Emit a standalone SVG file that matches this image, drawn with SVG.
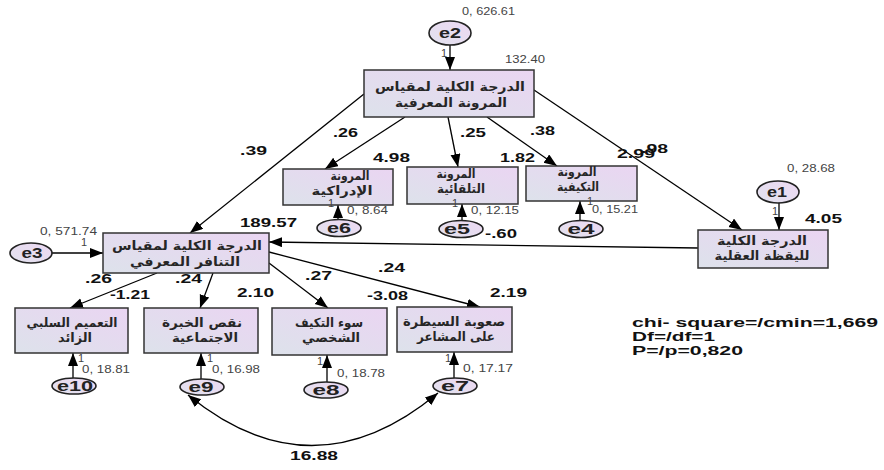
<svg xmlns="http://www.w3.org/2000/svg" width="884" height="470" viewBox="0 0 884 470">
<defs>
<linearGradient id="bx" x1="0" y1="1" x2="1" y2="0">
<stop offset="0" stop-color="#dde2eb"/>
<stop offset="1" stop-color="#ead5f2"/>
</linearGradient>
<linearGradient id="el" x1="0" y1="1" x2="1" y2="0">
<stop offset="0" stop-color="#e2e2ee"/>
<stop offset="1" stop-color="#ecd8f2"/>
</linearGradient>
<marker id="ah" markerUnits="userSpaceOnUse" markerWidth="15" markerHeight="12" refX="13" refY="5" orient="auto-start-reverse">
<path d="M0,0 L13,5 L0,10 z" fill="#000"/>
</marker>
</defs>
<style>
.box{fill:url(#bx);stroke:#333;stroke-width:1.5}
.ell{fill:url(#el);stroke:#222;stroke-width:1.6}
.ln{stroke:#000;stroke-width:1.3;fill:none;marker-end:url(#ah)}
.num{font-family:"Liberation Sans",Arial,sans-serif;font-weight:bold;font-size:13px;fill:#111}
.chi{font-family:"Liberation Sans",Arial,sans-serif;font-weight:bold;font-size:12px;fill:#111}
.sm{font-family:"Liberation Sans",Arial,sans-serif;font-size:11px;fill:#444}
.ar{font-family:"DejaVu Sans",sans-serif;font-weight:bold;font-size:12.5px;fill:#262626;text-anchor:middle}
.ev{font-family:"Liberation Sans",Arial,sans-serif;font-weight:bold;font-size:14px;fill:#222;text-anchor:middle}
</style>
<rect width="884" height="470" fill="#fff"/>

<g id="connectors">
<line class="ln" x1="450" y1="45" x2="450" y2="70"/>
<line class="ln" x1="364" y1="94" x2="190" y2="233"/>
<line class="ln" x1="405" y1="117" x2="325" y2="169"/>
<line class="ln" x1="448" y1="117" x2="458" y2="167"/>
<line class="ln" x1="487" y1="117" x2="557" y2="166"/>
<line class="ln" x1="534" y1="90" x2="742" y2="230"/>
<line class="ln" x1="779" y1="203" x2="779" y2="230"/>
<line class="ln" x1="698" y1="248" x2="269" y2="242"/>
<line class="ln" x1="52" y1="253" x2="103" y2="253"/>
<line class="ln" x1="157" y1="273" x2="70" y2="308"/>
<line class="ln" x1="213" y1="273" x2="200" y2="308"/>
<line class="ln" x1="269" y1="263" x2="328" y2="308"/>
<line class="ln" x1="269" y1="252" x2="480" y2="307"/>
<line class="ln" x1="338" y1="220" x2="338" y2="205"/>
<line class="ln" x1="462" y1="221" x2="462" y2="204"/>
<line class="ln" x1="580" y1="221" x2="580" y2="201"/>
<line class="ln" x1="73" y1="378" x2="73" y2="353"/>
<line class="ln" x1="201" y1="379" x2="201" y2="353"/>
<line class="ln" x1="327" y1="382" x2="327" y2="355"/>
<line class="ln" x1="454" y1="378" x2="454" y2="352"/>
<path class="ln" d="M188,395 Q313,497 438,393" style="marker-start:url(#ah)"/>
</g>

<g id="top">
<rect class="box" x="364" y="70" width="170" height="47"/>
<text class="ar" x="450" y="91" textLength="150" lengthAdjust="spacingAndGlyphs">الدرجة الكلية لمقياس</text>
<text class="ar" x="451" y="107" textLength="112" lengthAdjust="spacingAndGlyphs">المرونة المعرفية</text>
</g>
<g id="b1">
<rect class="box" x="283" y="169" width="110" height="36"/>
<text class="ar" x="350" y="180" textLength="39" lengthAdjust="spacingAndGlyphs">المرونة</text>
<text class="ar" x="342" y="195" textLength="61" lengthAdjust="spacingAndGlyphs">الإدراكية</text>
</g>
<g id="b2">
<rect class="box" x="407" y="167" width="111" height="37"/>
<text class="ar" x="456" y="178" textLength="39" lengthAdjust="spacingAndGlyphs">المرونة</text>
<text class="ar" x="461" y="193" textLength="48" lengthAdjust="spacingAndGlyphs">التلقائية</text>
</g>
<g id="b3">
<rect class="box" x="526" y="166" width="111" height="35"/>
<text class="ar" x="577" y="176" textLength="39" lengthAdjust="spacingAndGlyphs">المرونة</text>
<text class="ar" x="578" y="191" textLength="42" lengthAdjust="spacingAndGlyphs">التكيفية</text>
</g>
<g id="left">
<rect class="box" x="103" y="233" width="166" height="40"/>
<text class="ar" x="187" y="250" textLength="150" lengthAdjust="spacingAndGlyphs">الدرجة الكلية لمقياس</text>
<text class="ar" x="185" y="266" textLength="110" lengthAdjust="spacingAndGlyphs">التنافر المعرفي</text>
</g>
<g id="right">
<rect class="box" x="698" y="230" width="130" height="38"/>
<text class="ar" x="762" y="245" textLength="90" lengthAdjust="spacingAndGlyphs">الدرجة الكلية</text>
<text class="ar" x="762" y="260" textLength="95" lengthAdjust="spacingAndGlyphs">لليقظة العقلية</text>
</g>
<g id="bb1">
<rect class="box" x="15" y="308" width="113" height="45"/>
<text class="ar" x="72" y="327" textLength="91" lengthAdjust="spacingAndGlyphs">التعميم السلبي</text>
<text class="ar" x="75" y="342" textLength="34" lengthAdjust="spacingAndGlyphs">الزائد</text>
</g>
<g id="bb2">
<rect class="box" x="144" y="308" width="114" height="45"/>
<text class="ar" x="202" y="327" textLength="80" lengthAdjust="spacingAndGlyphs">نقص الخبرة</text>
<text class="ar" x="205" y="342" textLength="66" lengthAdjust="spacingAndGlyphs">الاجتماعية</text>
</g>
<g id="bb3">
<rect class="box" x="272" y="308" width="115" height="47"/>
<text class="ar" x="329" y="327" textLength="68" lengthAdjust="spacingAndGlyphs">سوء التكيف</text>
<text class="ar" x="331" y="342" textLength="58" lengthAdjust="spacingAndGlyphs">الشخصي</text>
</g>
<g id="bb4">
<rect class="box" x="397" y="307" width="115" height="45"/>
<text class="ar" x="454" y="326" textLength="102" lengthAdjust="spacingAndGlyphs">صعوبة السيطرة</text>
<text class="ar" x="456" y="341" textLength="78" lengthAdjust="spacingAndGlyphs">على المشاعر</text>
</g>

<g id="e2"><ellipse class="ell" cx="450" cy="33" rx="21" ry="12"/><text class="ev" x="450" y="38" textLength="22" lengthAdjust="spacingAndGlyphs">e2</text></g>
<g id="e1"><ellipse class="ell" cx="778" cy="192" rx="21" ry="11"/><text class="ev" x="777" y="197" textLength="20" lengthAdjust="spacingAndGlyphs">e1</text></g>
<g id="e3"><ellipse class="ell" cx="31" cy="253" rx="21" ry="10"/><text class="ev" x="32" y="258" textLength="21" lengthAdjust="spacingAndGlyphs">e3</text></g>
<g id="e6"><ellipse class="ell" cx="339" cy="228" rx="22" ry="8.5"/><text class="ev" x="339" y="233" textLength="24" lengthAdjust="spacingAndGlyphs">e6</text></g>
<g id="e5"><ellipse class="ell" cx="461" cy="229" rx="22" ry="8.5"/><text class="ev" x="457" y="234" textLength="26" lengthAdjust="spacingAndGlyphs">e5</text></g>
<g id="e4"><ellipse class="ell" cx="581" cy="229" rx="22" ry="8.5"/><text class="ev" x="581" y="234" textLength="27" lengthAdjust="spacingAndGlyphs">e4</text></g>
<g id="e10"><ellipse class="ell" cx="74" cy="386" rx="22" ry="8"/><text class="ev" x="75" y="391" textLength="36" lengthAdjust="spacingAndGlyphs">e10</text></g>
<g id="e9"><ellipse class="ell" cx="202" cy="387" rx="22" ry="8"/><text class="ev" x="201" y="392" textLength="25" lengthAdjust="spacingAndGlyphs">e9</text></g>
<g id="e8"><ellipse class="ell" cx="326" cy="390" rx="22" ry="8"/><text class="ev" x="326" y="395" textLength="27" lengthAdjust="spacingAndGlyphs">e8</text></g>
<g id="e7"><ellipse class="ell" cx="455" cy="386" rx="22" ry="8"/><text class="ev" x="455" y="391" textLength="28" lengthAdjust="spacingAndGlyphs">e7</text></g>

<g id="labels">
<text class="num" x="240" y="155" textLength="27" lengthAdjust="spacingAndGlyphs">.39</text>
<text class="num" x="333" y="137" textLength="25" lengthAdjust="spacingAndGlyphs">.26</text>
<text class="num" x="460" y="137" textLength="26" lengthAdjust="spacingAndGlyphs">.25</text>
<text class="num" x="530" y="135" textLength="25" lengthAdjust="spacingAndGlyphs">.38</text>
<text class="num" x="373" y="162" textLength="37" lengthAdjust="spacingAndGlyphs">4.98</text>
<text class="num" x="500" y="162" textLength="35" lengthAdjust="spacingAndGlyphs">1.82</text>
<text class="num" x="617" y="158" textLength="38" lengthAdjust="spacingAndGlyphs">2.99</text>
<text class="num" x="641" y="153" textLength="27" lengthAdjust="spacingAndGlyphs">.98</text>
<text class="num" x="240" y="227" textLength="57" lengthAdjust="spacingAndGlyphs">189.57</text>
<text class="num" x="485" y="238" textLength="32" lengthAdjust="spacingAndGlyphs">-.60</text>
<text class="num" x="805" y="223" textLength="37" lengthAdjust="spacingAndGlyphs">4.05</text>
<text class="num" x="85" y="283" textLength="27" lengthAdjust="spacingAndGlyphs">.26</text>
<text class="num" x="110" y="299" textLength="40" lengthAdjust="spacingAndGlyphs">-1.21</text>
<text class="num" x="175" y="283" textLength="27" lengthAdjust="spacingAndGlyphs">.24</text>
<text class="num" x="237" y="297" textLength="37" lengthAdjust="spacingAndGlyphs">2.10</text>
<text class="num" x="305" y="280" textLength="27" lengthAdjust="spacingAndGlyphs">.27</text>
<text class="num" x="367" y="300" textLength="41" lengthAdjust="spacingAndGlyphs">-3.08</text>
<text class="num" x="378" y="272" textLength="27" lengthAdjust="spacingAndGlyphs">.24</text>
<text class="num" x="490" y="297" textLength="37" lengthAdjust="spacingAndGlyphs">2.19</text>
<text class="num" x="290" y="460" textLength="48" lengthAdjust="spacingAndGlyphs">16.88</text>
<text class="chi" x="632" y="327" textLength="246" lengthAdjust="spacingAndGlyphs">chi- square=/cmin=1,669</text>
<text class="chi" x="632" y="341" textLength="83" lengthAdjust="spacingAndGlyphs">Df=/df=1</text>
<text class="chi" x="632" y="355" textLength="111" lengthAdjust="spacingAndGlyphs">P=/p=0,820</text>

<text class="sm" x="462" y="15" textLength="53" lengthAdjust="spacingAndGlyphs">0, 626.61</text>
<text class="sm" x="441" y="57">1</text>
<text class="sm" x="505" y="63" textLength="40" lengthAdjust="spacingAndGlyphs">132.40</text>
<text class="sm" x="40" y="235" textLength="57" lengthAdjust="spacingAndGlyphs">0, 571.74</text>
<text class="sm" x="81" y="246">1</text>
<text class="sm" x="787" y="172" textLength="48" lengthAdjust="spacingAndGlyphs">0, 28.68</text>
<text class="sm" x="772" y="215">1</text>
<text class="sm" x="328" y="207">1</text>
<text class="sm" x="347" y="214" textLength="41" lengthAdjust="spacingAndGlyphs">0, 8.64</text>
<text class="sm" x="452" y="207">1</text>
<text class="sm" x="471" y="214" textLength="48" lengthAdjust="spacingAndGlyphs">0, 12.15</text>
<text class="sm" x="587" y="205">1</text>
<text class="sm" x="592" y="213" textLength="46" lengthAdjust="spacingAndGlyphs">0, 15.21</text>
<text class="sm" x="78" y="362">1</text>
<text class="sm" x="82" y="373" textLength="48" lengthAdjust="spacingAndGlyphs">0, 18.81</text>
<text class="sm" x="207" y="362">1</text>
<text class="sm" x="212" y="373" textLength="48" lengthAdjust="spacingAndGlyphs">0, 16.98</text>
<text class="sm" x="317" y="365">1</text>
<text class="sm" x="337" y="377" textLength="48" lengthAdjust="spacingAndGlyphs">0, 18.78</text>
<text class="sm" x="445" y="362">1</text>
<text class="sm" x="463" y="372" textLength="50" lengthAdjust="spacingAndGlyphs">0, 17.17</text>
</g>
</svg>
